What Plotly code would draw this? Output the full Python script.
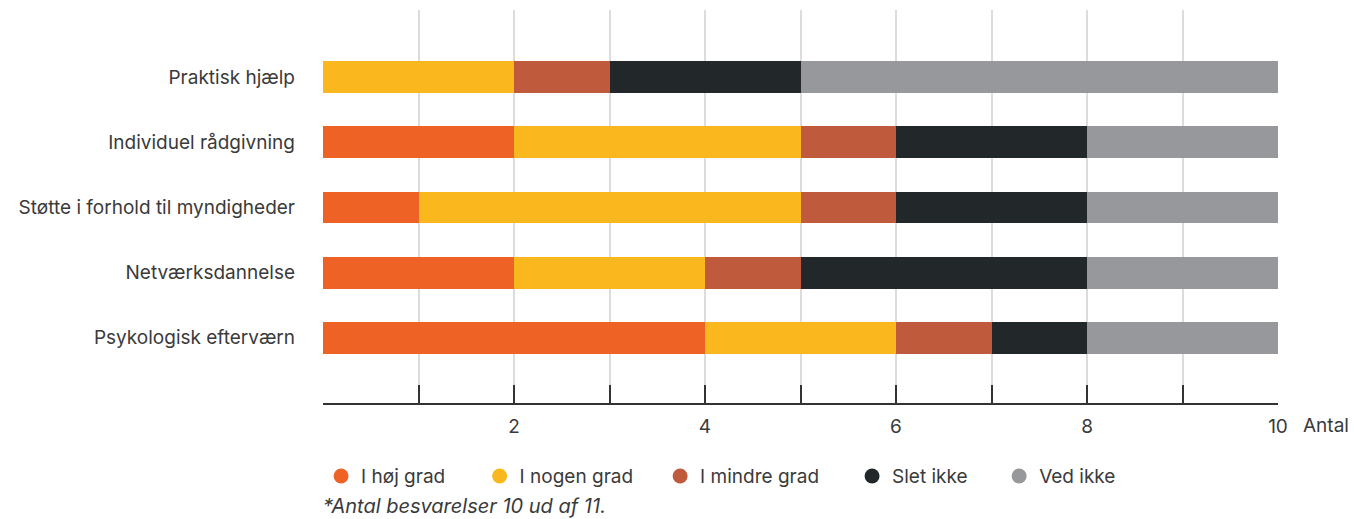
import plotly.graph_objects as go

categories = ["Psykologisk efterværn", "Netværksdannelse", "Støtte i forhold til myndigheder",
              "Individuel rådgivning", "Praktisk hjælp"]
series_names = ["I høj grad", "I nogen grad", "I mindre grad", "Slet ikke", "Ved ikke"]
hoej_grad = [4, 2, 1, 2, 0]
nogen_grad = [2, 2, 4, 3, 2]
mindre_grad = [1, 1, 1, 1, 1]
slet_ikke = [1, 3, 2, 2, 2]
ved_ikke = [2, 2, 2, 2, 5]
colors = ["#EE6325", "#FBB81E", "#BF5A3D", "#22272A", "#97989B"]
x_ticks = list(range(0, 11))
x_tick_labels = ["", "", "2", "", "4", "", "6", "", "8", "", "10"]

FONT = "Inter"
TXT = "#3a3a3a"
FS = 19

# horizontal placement of each legend entry (paper fraction)
legend_x = [-0.002, 0.164, 0.353, 0.554, 0.708]

fig = go.Figure()
for name, vals, col in zip(series_names, [hoej_grad, nogen_grad, mindre_grad, slet_ikke, ved_ikke], colors):
    fig.add_trace(go.Bar(
        y=categories, x=vals, name=name, orientation="h",
        marker=dict(color=col, line=dict(width=0)),
        width=0.49, showlegend=False,
    ))

# circular legend keys, one legend box per entry
legend_layouts = {}
for i, (name, col) in enumerate(zip(series_names, colors)):
    key = "legend" if i == 0 else f"legend{i + 1}"
    fig.add_trace(go.Scatter(
        x=[None], y=[None], mode="markers", name=name, legend=key,
        marker=dict(symbol="circle", size=15, color=col),
    ))
    legend_layouts[key] = dict(
        orientation="h", x=legend_x[i], xanchor="left", y=-0.186, yanchor="middle",
        font=dict(size=FS, color=TXT), bgcolor="rgba(0,0,0,0)",
    )

fig.update_layout(
    barmode="stack",
    width=1354, height=519,
    margin=dict(l=323, r=76, t=10, b=116),
    plot_bgcolor="white", paper_bgcolor="white",
    font=dict(family=FONT, size=FS, color=TXT),
    xaxis=dict(
        range=[0, 10], tickvals=x_ticks, ticktext=x_tick_labels,
        showgrid=True, gridcolor="#DCDCDC", gridwidth=2,
        ticks="inside", ticklen=18, tickcolor="#333333", tickwidth=1.5,
        showline=True, linecolor="#333333", linewidth=1.5,
        ticklabelstandoff=5, zeroline=False,
        tickfont=dict(size=FS, color=TXT),
    ),
    yaxis=dict(
        range=[-1.0, 5.03], showgrid=False, zeroline=False, showline=False,
        ticks="", ticklabelstandoff=27, tickfont=dict(size=FS, color=TXT),
    ),
    annotations=[
        dict(text="Antal", xref="paper", yref="paper", x=1.024, y=-0.058,
             xanchor="left", yanchor="middle", showarrow=False,
             font=dict(size=FS, color=TXT)),
        dict(text="<i>*Antal besvarelser 10 ud af 11.</i>", xref="paper", yref="paper",
             x=-0.002, y=-0.262, xanchor="left", yanchor="middle", showarrow=False,
             font=dict(size=20, color=TXT)),
    ],
    **legend_layouts,
)

fig.write_html("out.html")
